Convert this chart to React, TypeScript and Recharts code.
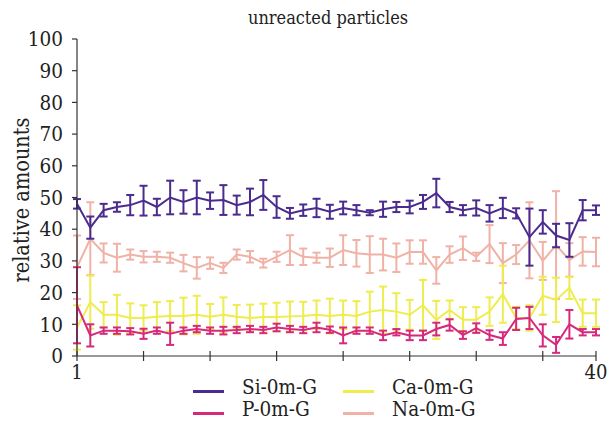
import { LineChart, Line, XAxis, YAxis, ErrorBar } from 'recharts';

const samples = [
  1, 2, 3, 4, 5, 6, 7, 8, 9, 10, 11, 12, 13, 14, 15, 16, 17, 18, 19, 20,
  21, 22, 23, 24, 25, 26, 27, 28, 29, 30, 31, 32, 33, 34, 35, 36, 37, 38, 39, 40,
];

const si = [
  48, 40.5, 46, 47, 47.6, 49, 47, 50, 48.6, 50, 49, 49.2, 47.6, 48.6, 50.8, 47, 45, 46, 46.7, 45.5,
  46.7, 46, 45.2, 46.3, 47, 47, 48.6, 51.4, 47, 46, 46.7, 45, 46.7, 45, 37.5, 42.3, 38, 36.6, 46, 46,
];
const siErr = [
  1.5, 3.5, 2, 1.5, 3.2, 4.7, 2.6, 5.3, 3.7, 5.3, 2.6, 4.7, 3, 4.2, 4.7, 3.4, 1.7, 1.8, 2.9, 2.2,
  2, 1.6, 0.8, 2.4, 1.6, 2, 2.2, 4.5, 1.6, 1.6, 2.4, 2.6, 3.2, 1.6, 9, 3.7, 3.7, 5.3, 3.2, 1.5,
];

const p = [
  16, 6.5, 8, 8, 7.8, 7, 8, 7, 8, 8.5, 8, 8, 8.2, 8.5, 8.2, 9, 8.5, 8.2, 9, 8.3,
  6.5, 8, 8, 6.5, 7.5, 6.5, 6.5, 8.5, 9.8, 6.6, 8.8, 6.6, 5.5, 11.7, 12, 6.5, 3.5, 10, 7.5, 7.5,
];
const pErr = [
  12, 3.5, 1, 1, 1, 1.6, 1, 3.5, 1, 1, 1, 1.2, 1, 1, 1, 1.2, 1, 1, 1.5, 1,
  2.5, 1, 1, 1.5, 1, 1.5, 1.5, 2, 1.8, 1.2, 1.5, 1.5, 2, 3.5, 3.5, 3.5, 2.5, 4.5, 1, 1,
];

const ca = [
  9, 17, 13, 13, 12, 12, 12.4, 12.6, 12.6, 13, 12.4, 13, 12.4, 12, 12.3, 12.3, 12.5, 12.6, 13, 12.6,
  13, 12.6, 14, 14.5, 14, 13, 16, 11.4, 14.5, 11.4, 11.4, 14, 19.5, 12, 12, 19, 17.7, 21.5, 13.5, 13.5,
];
const caErr = [
  7, 8.4, 4, 6.3, 4.6, 4, 4.6, 4.7, 5.8, 6, 4, 5.5, 3.7, 4.2, 4.2, 4.5, 4.7, 4.5, 4.5, 5.5,
  4.5, 4.7, 6.3, 7.4, 5.8, 4.7, 8, 6, 3, 4, 4, 4.5, 9, 3.5, 4, 6, 7, 3.5, 4.3, 4.3,
];

const na = [
  28, 37, 32.5, 31, 32, 31.3, 31.3, 31, 29.3, 27.8, 29.3, 27.8, 32, 31.3, 29.3, 31.3, 33.4, 31.3, 31, 31,
  33.4, 32.4, 32, 32, 31, 32.8, 32.8, 27, 32, 34, 31.3, 35.3, 29.3, 32, 36.5, 30, 35, 30.3, 33, 32.8,
];
const naErr = [
  10, 11.5, 3, 4.4, 1.6, 1.8, 1.6, 1.6, 2.6, 3.4, 1.8, 1.6, 1.6, 1.8, 1.4, 1.6, 4.7, 2.6, 1.6, 2.9,
  4.7, 4.2, 5.8, 5, 4.5, 3.7, 3.7, 4.2, 2.6, 3.7, 1.3, 6, 6.3, 3, 12, 6, 17, 5.3, 4.5, 4.5,
];

const yTicks = [0, 10, 20, 30, 40, 50, 60, 70, 80, 90, 100];
const xTicks = [1, 6, 11, 16, 21, 26, 31, 36, 40];
const xLabels = [1, 40];

const COLORS = {
  si: '#4b2b8e',
  p: '#d6297c',
  ca: '#eeec4e',
  na: '#f0b2a6',
};

const FONT = "'DejaVu Serif Condensed', 'DejaVu Serif', serif";
const AXIS = '#333';

const data = samples.map((x, i) => ({
  x,
  si: si[i],
  siErr: siErr[i],
  p: p[i],
  pErr: pErr[i],
  ca: ca[i],
  caErr: caErr[i],
  na: na[i],
  naErr: naErr[i],
}));

interface TickProps {
  x: number;
  y: number;
  payload: { value: number };
}

const XTick = ({ x, y, payload }: TickProps) => (
  <g>
    <line x1={x} x2={x} y1={y - 5} y2={y + 5} stroke={AXIS} strokeWidth={1.2} />
    {xLabels.includes(payload.value) && (
      <text x={x} y={y + 23} textAnchor='middle' fontSize={20} fill='#222' style={{ fontFamily: FONT }}>
        {payload.value}
      </text>
    )}
  </g>
);

const legendItems = [
  { name: 'Si-0m-G', color: COLORS.si, left: 193, top: 391 },
  { name: 'Ca-0m-G', color: COLORS.ca, left: 343, top: 391 },
  { name: 'P-0m-G', color: COLORS.p, left: 193, top: 413 },
  { name: 'Na-0m-G', color: COLORS.na, left: 343, top: 413 },
];

const series = [
  { key: 'na', err: 'naErr', color: COLORS.na },
  { key: 'ca', err: 'caErr', color: COLORS.ca },
  { key: 'p', err: 'pErr', color: COLORS.p },
  { key: 'si', err: 'siErr', color: COLORS.si },
];

export default function App() {
  return (
    <div style={{ position: 'absolute', left: 0, top: 0, width: 612, height: 423, background: '#fff', fontFamily: FONT }}>
      <LineChart width={612} height={423} data={data} margin={{ top: 39, right: 16, bottom: 37, left: 17 }}>
        <XAxis
          dataKey='x'
          type='number'
          domain={[1, 40]}
          ticks={xTicks}
          tickSize={0}
          tickMargin={0}
          tickLine={false}
          tick={XTick}
          height={30}
          axisLine={{ stroke: AXIS, strokeWidth: 1.2 }}
          interval={0}
        />
        <XAxis
          xAxisId='top'
          orientation='top'
          dataKey='x'
          type='number'
          domain={[1, 40]}
          height={0}
          tick={false}
          tickLine={false}
          axisLine={{ stroke: AXIS, strokeWidth: 1.2 }}
        />
        <YAxis
          domain={[0, 100]}
          ticks={yTicks}
          width={60}
          tickSize={5}
          tickMargin={9}
          interval={0}
          tickLine={{ stroke: AXIS, strokeWidth: 1.2 }}
          axisLine={{ stroke: AXIS, strokeWidth: 1.2 }}
          tick={{ fontSize: 20.5, fill: '#222', style: { fontFamily: FONT } }}
        />
        <YAxis
          yAxisId='right'
          orientation='right'
          domain={[0, 100]}
          width={0}
          tick={false}
          tickLine={false}
          axisLine={{ stroke: AXIS, strokeWidth: 1.2 }}
        />
        {series.map(s => (
          <Line
            key={s.key}
            type='linear'
            dataKey={s.key}
            stroke={s.color}
            strokeWidth={2}
            dot={false}
            isAnimationActive={false}
          >
            <ErrorBar dataKey={s.err} direction='y' width={4} stroke={s.color} strokeWidth={2} />
          </Line>
        ))}
      </LineChart>

      {/* title */}
      <div style={{ position: 'absolute', left: 178, width: 300, top: 6, textAlign: 'center', fontSize: 18, color: '#222', lineHeight: '24px' }}>
        unreacted particles
      </div>

      {/* y axis label */}
      <div
        style={{
          position: 'absolute',
          left: 22,
          top: 200,
          transform: 'translate(-50%, -50%) rotate(-90deg)',
          whiteSpace: 'nowrap',
          fontSize: 21.5,
          color: '#222',
          lineHeight: '24px',
        }}
      >
        relative amounts
      </div>

      {/* legend */}
      {legendItems.map(item => (
        <div key={item.name}>
          <div style={{ position: 'absolute', left: item.left, top: item.top - 1, width: 31, height: 2.5, background: item.color }} />
          <div style={{ position: 'absolute', left: item.left + 49, top: item.top - 13, fontSize: 20.5, lineHeight: '19px', color: '#222', whiteSpace: 'nowrap' }}>
            {item.name}
          </div>
        </div>
      ))}
    </div>
  );
}
